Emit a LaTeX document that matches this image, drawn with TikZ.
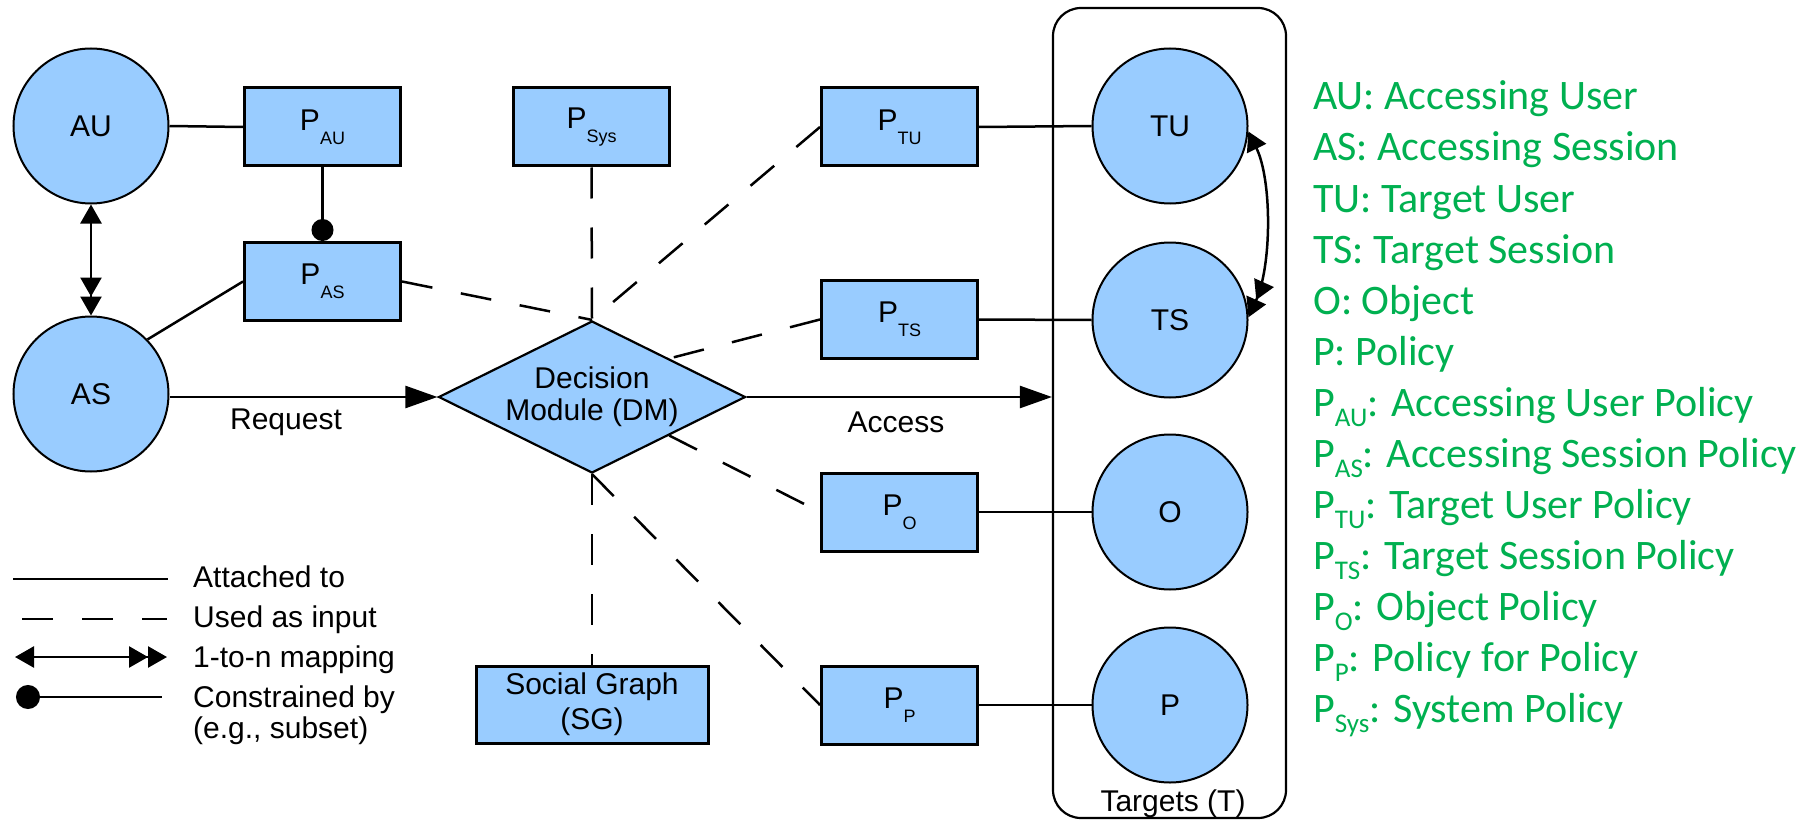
\documentclass[tikz,border=0pt]{standalone}
\usepackage{fontspec}
\setmainfont{Liberation Sans}
\newfontfamily\calib{Carlito}
\usetikzlibrary{shapes.geometric,arrows.meta,calc}
\definecolor{boxblue}{HTML}{99CCFF}
\definecolor{keygreen}{HTML}{00B050}
% lowered subscripts for the policy names
\newcommand\blsub[1]{\raisebox{-14pt}{\fontsize{18}{18}\selectfont #1}}
\newcommand\grsub[1]{\raisebox{-10.5pt}{\fontsize{27}{27}\selectfont #1}}
\begin{document}
\begin{tikzpicture}[x=1pt,y=-1pt,
  ent/.style={circle,draw,line width=2pt,fill=boxblue,minimum size=155pt,inner sep=0pt,font=\fontsize{30}{30}\selectfont},
  pol/.style={rectangle,draw,line width=3pt,fill=boxblue,minimum width=156pt,minimum height=78pt,inner sep=0pt,font=\fontsize{30}{30}\selectfont},
  link/.style={line width=2.5pt},
  feed/.style={line width=2.5pt,dash pattern=on 31pt off 29pt},
  map/.style={line width=2.5pt,{Triangle[length=19pt,width=21pt]}-{Triangle[length=19pt,width=21pt] Triangle[length=19pt,width=21pt]}},
  flow/.style={line width=2.5pt,-{Triangle[length=32pt,width=22pt]}},
  lbl/.style={font=\fontsize{30}{30}\selectfont,inner sep=0pt},
  key/.style={anchor=base west,inner sep=0pt,text=keygreen,font=\calib\fontsize{42}{42}\selectfont}
]
\useasboundingbox (0,0) rectangle (1814,821);

% targets container
\node[draw,line width=2.2pt,rounded corners=28pt,minimum width=233pt,minimum height=810pt] (T) at (1169.5,413) {};
\node[lbl,anchor=base] (Tname) at (1173,811) {Targets (T)};

% accessing side
\node[ent] (AU) at (91,126) {AU};
\node[ent] (AS) at (91,394) {AS};
\node[pol] (PAU) at (322.5,127) {P\blsub{AU}};
\node[pol] (PAS) at (322.5,281.5) {P\blsub{AS}};
\node[pol] (PSys) at (591.5,127) {P\blsub{Sys}};

% decision module and social graph
\node[diamond,aspect=2,draw,line width=2.2pt,fill=boxblue,minimum width=307pt,minimum height=152pt,inner sep=0pt,align=center,font=\fontsize{30}{32}\selectfont] (DM) at (592,397) {Decision\\Module (DM)};
\node[pol,minimum width=232pt,minimum height=77pt,align=center,font=\fontsize{30}{35}\selectfont] (SG) at (592,704.5) {Social Graph\\(SG)};

% target policies
\node[pol] (PTU) at (899.5,127) {P\blsub{TU}};
\node[pol] (PTS) at (899.5,319.5) {P\blsub{TS}};
\node[pol] (PO) at (899.5,512) {P\blsub{O}};
\node[pol] (PP) at (899.5,705) {P\blsub{P}};

% targets
\node[ent] (TU) at (1170,126) {TU};
\node[ent] (TS) at (1170,320) {TS};
\node[ent] (O) at (1170,512) {O};
\node[ent] (P) at (1170,705) {P};

% attachments
\draw[link] (AU.east) -- (PAU.west);
\draw[link] (AS.44) -- (PAS.west);
\draw[link,-{Circle[length=22pt]}] (PAU.south) -- (PAS.north);
\draw[map] (AU.south) -- (AS.north);
\draw[link] (PTU.east) -- (TU.west);
\draw[link] (PTS.east) -- (TS.west);
\draw[link] (PO.east) -- (O.west);
\draw[link] (PP.east) -- (P.west);
\draw[map] (TU.-4) .. controls (1272,180) and (1272,265) .. (TS.2);

% request and access
\draw[flow] (AS.east |- DM.west) -- (DM.west);
\node[lbl] (req) at (286,422) {Request};
\draw[flow] (DM.east) -- (DM.east -| T.west);
\node[lbl] (acc) at (896,422) {Access};

% inputs to the decision module
\draw[feed] (PSys.south) -- (DM.north);
\draw[feed] (DM.south) -- (SG.north);
\draw[feed] (PAS.east) -- (DM.north);
\draw[feed] (PTU.west) -- (DM.north);
\draw[feed] (PTS.west) -- ($(DM.north)!0.5!(DM.east)$);
\draw[feed] ($(DM.south)!0.5!(DM.east)$) -- (PO.west);
\draw[feed] (DM.south) -- (PP.west);

% legend
\coordinate (a1) at (13,579);  \coordinate (a2) at (168,579);
\coordinate (b1) at (22,619);  \coordinate (b2) at (167,619);
\coordinate (c1) at (15,657);  \coordinate (c2) at (167,657);
\coordinate (d1) at (16,697);  \coordinate (d2) at (162,697);
\draw[link] (a1) -- (a2);
\draw[feed] (b1) -- (b2);
\draw[map] (c1) -- (c2);
\draw[link,{Circle[length=24pt]}-] (d1) -- (d2);
\node[lbl,anchor=base west] (k1) at (193,587) {Attached to};
\node[lbl,anchor=base west] (k2) at (193,627) {Used as input};
\node[lbl,anchor=base west] (k3) at (193,667) {1-to-n mapping};
\node[lbl,anchor=base west] (k4) at (193,707) {Constrained by};
\node[lbl,anchor=base west] (k5) at (193,738) {(e.g., subset)};

% abbreviations
\node[key] (g1) at (1313,110) {AU: Accessing User};
\node[key] (g2) at (1313,161) {AS: Accessing Session};
\node[key] (g3) at (1313,212) {TU: Target User};
\node[key] (g4) at (1313,263) {TS: Target Session};
\node[key] (g5) at (1313,314) {O: Object};
\node[key] (g6) at (1313,365) {P: Policy};
\node[key] (g7) at (1313,416) {P\grsub{AU}: Accessing User Policy};
\node[key] (g8) at (1313,467) {P\grsub{AS}: Accessing Session Policy};
\node[key] (g9) at (1313,518) {P\grsub{TU}: Target User Policy};
\node[key] (g10) at (1313,569) {P\grsub{TS}: Target Session Policy};
\node[key] (g11) at (1313,620) {P\grsub{O}: Object Policy};
\node[key] (g12) at (1313,671) {P\grsub{P}: Policy for Policy};
\node[key] (g13) at (1313,722) {P\grsub{Sys}: System Policy};
\end{tikzpicture}
\end{document}
